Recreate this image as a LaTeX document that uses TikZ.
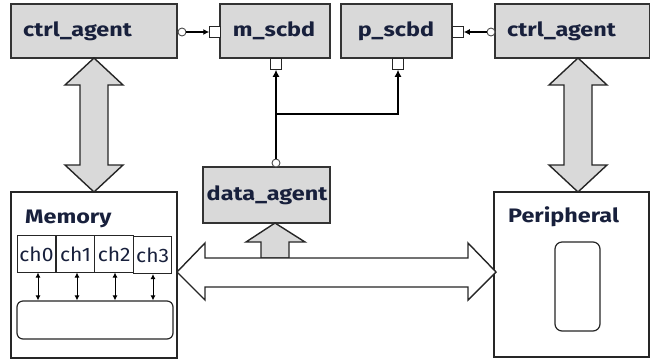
\documentclass[tikz,border=0pt]{standalone}
\usepackage{fontspec}
\setmainfont{Fira Sans}
\newfontfamily\widefont[FakeStretch=1.2]{Fira Sans}
\newfontfamily\chanfont[FakeStretch=1.08]{Fira Sans}
\usetikzlibrary{arrows.meta}
\definecolor{boxgray}{HTML}{D9D9D9}
\definecolor{ink}{HTML}{18203C}
\begin{document}
\begin{tikzpicture}[x=1pt,y=-1pt,
  unit/.style={draw=black!80, line width=1.4pt, fill=boxgray, inner sep=0pt},
  plain/.style={draw=black!85, line width=1.3pt, fill=white, inner sep=0pt},
  lbl/.style={text=ink, font=\widefont\bfseries\fontsize{19.5}{19.5}\selectfont, inner sep=0pt},
  chlbl/.style={text=ink, font=\chanfont\fontsize{19.5}{19.5}\selectfont, inner sep=0pt},
  chan/.style={draw=black!85, line width=1pt, fill=white, inner sep=0pt,
    minimum width=38.5pt, minimum height=37pt},
  port/.style={draw=black!85, line width=1pt, fill=white, inner sep=0pt, minimum size=10.5pt},
  circ/.style={circle, draw=black!70, line width=0.9pt, fill=white, inner sep=0pt, minimum size=8pt},
  sig/.style={line width=1.6pt, -{Latex[length=6pt,width=6pt]}},
  bus/.style={line width=2.6pt, -{Latex[length=7pt,width=7pt]}},
  lane/.style={line width=1pt, {Latex[length=5pt,width=5pt]}-{Latex[length=5pt,width=5pt]}},
  block/.style={draw=black!85, line width=1.4pt, line join=miter, fill=boxgray},
  blockw/.style={draw=black!85, line width=1.4pt, line join=miter, fill=white}]
\useasboundingbox (0,0) rectangle (650,360);

% control / scoreboard row
\node[unit, minimum width=166pt, minimum height=54pt] (ctrlL) at (94,31) {};
\node[unit, minimum width=110pt, minimum height=54pt] (mscbd) at (275,31) {};
\node[unit, minimum width=111pt, minimum height=54pt] (pscbd) at (396.5,31) {};
\node[unit, minimum width=155pt, minimum height=54pt] (ctrlR) at (572.5,31) {};
\node[lbl, anchor=base west] at (23,36) {ctrl\_agent};
\node[lbl, anchor=base] at (274,36) {m\_scbd};
\node[lbl, anchor=base] at (396,36) {p\_scbd};
\node[lbl, anchor=base west] at (507,36) {ctrl\_agent};

% data agent
\node[unit, minimum width=127pt, minimum height=56pt] (data) at (266.5,195) {};
\node[lbl, anchor=base] at (267,200) {data\_agent};

% memory and peripheral
\node[plain, minimum width=166pt, minimum height=166pt] (mem) at (94,275) {};
\node[plain, minimum width=155pt, minimum height=165pt] (peri) at (571.5,274.5) {};
\node[lbl, anchor=base west] at (25,223) {Memory};
\node[lbl, anchor=base west] at (508,222) {Peripheral};

% memory channels
\node[chan] (ch0) at (36.5,253.5) {};
\node[chan] (ch1) at (75.5,253.5) {};
\node[chan] (ch2) at (114.2,253.5) {};
\node[chan] (ch3) at (152.7,255) {};
\node[chlbl, anchor=base] at (36.5,261) {ch0};
\node[chlbl, anchor=base] at (75.5,261) {ch1};
\node[chlbl, anchor=base] at (114.2,261) {ch2};
\node[chlbl, anchor=base] at (152.7,262) {ch3};
\node[draw=black!85, line width=1.2pt, rounded corners=6pt, minimum width=156pt,
  minimum height=38pt, inner sep=0pt] (bank) at (95,320) {};
\foreach \c/\x in {ch0/38,ch1/77,ch2/115,ch3/153}
  \draw[lane] (\c.south -| \x,0) -- (bank.north -| \x,0);

% peripheral device
\node[draw=black!85, line width=1.2pt, rounded corners=7pt, minimum width=45pt,
  minimum height=89pt, inner sep=0pt] (dev) at (577.5,286.5) {};

% ports and connectors
\node[port] (mpL) at (215,32) {};
\node[circ] (cL) at (182,32) {};
\node[port] (ppR) at (458,32) {};
\node[circ] (cR) at (491,32) {};
\draw[sig] (cL) -- (mpL);
\draw[sig] (cR) -- (ppR);

\node[port] (mpB) at (276,64) {};
\node[port] (ppB) at (398,64) {};
\node[circ] (dc) at (276,163) {};
\coordinate (split) at (276,114);
\draw[bus] (dc) -- (mpB);
\draw[bus] (split) -| (ppB);

% block arrows
\draw[block] (94,58) -- (123,85) -- (108,85) -- (108,165) -- (123,165) -- (94,192)
  -- (65,165) -- (80,165) -- (80,85) -- (65,85) -- cycle;
\draw[block] (578,58) -- (607,85) -- (592,85) -- (592,165) -- (607,165) -- (578,192)
  -- (549,165) -- (564,165) -- (564,85) -- (549,85) -- cycle;
\draw[block] (275,223) -- (305,242) -- (289,242) -- (289,258) -- (261,258) -- (261,242)
  -- (246,242) -- cycle;
\draw[blockw] (177,272) -- (205,243) -- (205,258) -- (468,258) -- (468,243) -- (496,272)
  -- (468,300) -- (468,287) -- (205,287) -- (205,300) -- cycle;
\end{tikzpicture}
\end{document}
